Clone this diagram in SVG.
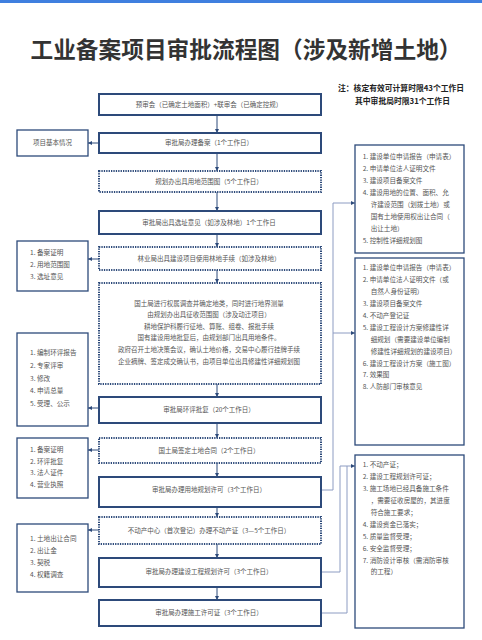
<svg xmlns="http://www.w3.org/2000/svg" width="482" height="640" viewBox="0 0 482 640">
<defs>
<style>
.box{fill:#fff;stroke:#2d4a7a;stroke-width:2}
.dot{fill:#fff;stroke:#2d4a7a;stroke-width:2;stroke-dasharray:1.3 1.1}
.side{fill:#fff;stroke:#2d4a7a;stroke-width:1.3}
.t{font-family:"Noto Sans CJK SC","Noto Sans",sans-serif;font-size:6.5px;fill:#555;text-anchor:middle}
.l{font-family:"Noto Sans CJK SC","Noto Sans",sans-serif;font-size:6.6px;fill:#555}
.c{stroke:#2d4a7a;stroke-width:1;fill:none}
.r{stroke:#8d9cc2;stroke-width:1;fill:none}
.title{font-family:"Noto Sans CJK SC","Noto Sans",sans-serif;font-size:22.7px;font-weight:bold;fill:#333;text-anchor:middle}
.note{font-family:"Noto Sans CJK SC","Noto Sans",sans-serif;font-size:7.8px;font-weight:bold;fill:#222}
</style>
<marker id="a" viewBox="0 0 6 6" refX="6" refY="3" markerWidth="4" markerHeight="4" orient="auto" markerUnits="userSpaceOnUse"><path d="M0 0 L6 3 L0 6 Z" fill="#2d4a7a"/></marker>
<marker id="ar" viewBox="0 0 6 6" refX="6" refY="3" markerWidth="4" markerHeight="4" orient="auto" markerUnits="userSpaceOnUse"><path d="M0 0 L6 3 L0 6 Z" fill="#2d4a7a"/></marker>
</defs>
<rect x="0" y="0" width="482" height="3" fill="#3f7fdf"/>
<text class="title" x="246" y="58">工业备案项目审批流程图（涉及新增土地）</text>
<text class="note" x="338" y="91">注：核定有效可计算时限43个工作日</text>
<text class="note" x="355" y="104">其中审批局时限31个工作日</text>

<g id="connectors">
<path class="c" d="M217 115 V133" marker-end="url(#a)"/>
<path class="c" d="M217 153 V171" marker-end="url(#a)"/>
<path class="c" d="M217 192 V211" marker-end="url(#a)"/>
<path class="c" d="M217 234 V247" marker-end="url(#a)"/>
<path class="c" d="M217 270 V283" marker-end="url(#a)"/>
<path class="c" d="M217 384 V397" marker-end="url(#a)"/>
<path class="c" d="M217 423 V438" marker-end="url(#a)"/>
<path class="c" d="M217 463 V477" marker-end="url(#a)"/>
<path class="c" d="M217 507 V517" marker-end="url(#a)"/>
<path class="c" d="M217 544 V558" marker-end="url(#a)"/>
<path class="c" d="M217 587 V600" marker-end="url(#a)"/>
<path class="c" d="M99 143 H88" marker-end="url(#a)"/>
<path class="c" d="M99 259 H88" marker-end="url(#a)"/>
<path class="c" d="M99 408 H88" marker-end="url(#a)"/>
<path class="c" d="M99 450 H88" marker-end="url(#a)"/>
<path class="c" d="M99 530 H88" marker-end="url(#a)"/>
<path class="r" d="M321 490 H333 V203 H355" marker-end="url(#ar)"/>
<path class="r" d="M333 333 H355" marker-end="url(#ar)"/>
<path class="r" d="M321 572 H340 V466 H355" marker-end="url(#ar)"/>
<path class="r" d="M321 613 H347 V466"/>
</g>

<g id="n1"><rect class="box" x="99" y="94" width="222" height="21"/><text class="t" x="209" y="107.3">预审会（已确定土地面积）+联审会（已确定控规）</text></g>
<g id="n2"><rect class="box" x="99" y="133" width="222" height="20"/><text class="t" x="209" y="145.3">审批局办理备案（1个工作日）</text></g>
<g id="n3"><rect class="dot" x="99" y="171" width="222" height="21"/><text class="t" x="209" y="183.8">规划办出具用地范围图（5个工作日）</text></g>
<g id="n4"><rect class="box" x="99" y="211" width="222" height="23"/><text class="t" x="209" y="224.8">审批局出具选址意见（如涉及林地）1个工作日</text></g>
<g id="n5"><rect class="dot" x="99" y="247" width="222" height="23"/><text class="t" x="209" y="260.8">林业局出具建设项目使用林地手续（如涉及林地）</text></g>
<g id="n6"><rect class="dot" x="99" y="283" width="222" height="101"/>
<text class="t" x="209" y="305.6">国土局进行权属调查并确定地类，同时进行地界测量</text>
<text class="t" x="209" y="317.2">由规划办出具征收范围图（涉及动迁项目）</text>
<text class="t" x="209" y="328.8">耕地保护科履行征地、算账、组卷、报批手续</text>
<text class="t" x="209" y="340.4">国有建设用地批复后，由规划部门出具用地条件。</text>
<text class="t" x="209" y="352">政府召开土地决策会议，确认土地价格，交易中心履行挂牌手续</text>
<text class="t" x="209" y="363.6">企业摘牌、签定成交确认书，由项目单位出具修建性详细规划图</text>
</g>
<g id="n7"><rect class="box" x="99" y="397" width="222" height="26"/><text class="t" x="209" y="412.3">审批局环评批复（20个工作日）</text></g>
<g id="n8"><rect class="dot" x="99" y="438" width="222" height="25"/><text class="t" x="209" y="452.8">国土局签定土地合同（2个工作日）</text></g>
<g id="n9"><rect class="box" x="99" y="477" width="222" height="30"/><text class="t" x="209" y="491.8">审批局办理用地规划许可（3个工作日）</text></g>
<g id="n10"><rect class="dot" x="99" y="517" width="222" height="27"/><text class="t" x="209" y="532.8">不动产中心（首次登记）办理不动产证（3—5个工作日）</text></g>
<g id="n11"><rect class="box" x="99" y="558" width="222" height="29"/><text class="t" x="209" y="573.8">审批局办理建设工程规划许可（3个工作日）</text></g>
<g id="n12"><rect class="box" x="99" y="600" width="222" height="26"/><text class="t" x="209" y="615.3">审批局办理施工许可证（3个工作日）</text></g>

<g id="s1"><rect class="side" x="17" y="130" width="71" height="26"/><text class="t" x="52.5" y="145.3">项目基本情况</text></g>
<g id="s2"><rect class="side" x="17" y="241" width="71" height="50"/>
<text class="l" x="30" y="255.3">1. 备案证明</text><text class="l" x="30" y="267.3">2. 用地范围图</text><text class="l" x="30" y="279.3">3. 选址意见</text></g>
<g id="s3"><rect class="side" x="17" y="333" width="71" height="93"/>
<text class="l" x="30" y="355.3">1. 编制环评报告</text><text class="l" x="30" y="368">2. 专家评审</text><text class="l" x="30" y="380.7">3. 修改</text><text class="l" x="30" y="393.4">4. 申请总量</text><text class="l" x="30" y="406.1">5. 受理、公示</text></g>
<g id="s4"><rect class="side" x="17" y="438" width="71" height="60"/>
<text class="l" x="30" y="452.3">1. 备案证明</text><text class="l" x="30" y="463.8">2. 环评批复</text><text class="l" x="30" y="475.3">3. 法人证件</text><text class="l" x="30" y="486.8">4. 营业执照</text></g>
<g id="s5"><rect class="side" x="17" y="524" width="71" height="68"/>
<text class="l" x="30" y="541.3">1. 土地出让合同</text><text class="l" x="30" y="553.3">2. 出让金</text><text class="l" x="30" y="565.3">3. 契税</text><text class="l" x="30" y="577.3">4. 权籍调查</text></g>

<g id="r1"><rect class="side" x="355" y="145" width="109" height="108"/>
<text class="l" x="362.7" y="159.3">1. 建设单位申请报告（申请表）</text>
<text class="l" x="362.7" y="171.3">2. 申请单位法人证明文件</text>
<text class="l" x="362.7" y="183.3">3. 建设项目备案文件</text>
<text class="l" x="362.7" y="195.3">4. 建设用地的位置、面积、允</text>
<text class="l" x="370.7" y="207.3">许建设范围（划拨土地）或</text>
<text class="l" x="370.7" y="219.3">国有土地使用权出让合同（</text>
<text class="l" x="370.7" y="231.3">出让土地）</text>
<text class="l" x="362.7" y="243.3">5. 控制性详细规划图</text></g>
<g id="r2"><rect class="side" x="355" y="258" width="109" height="187"/>
<text class="l" x="362.7" y="270.3">1. 建设单位申请报告（申请表）</text>
<text class="l" x="362.7" y="282.2">2. 申请单位法人证明文件（或</text>
<text class="l" x="370.7" y="294.1">自然人身份证明）</text>
<text class="l" x="362.7" y="306">3. 建设项目备案文件</text>
<text class="l" x="362.7" y="317.9">4. 不动产登记证</text>
<text class="l" x="362.7" y="329.8">5. 建设工程设计方案修建性详</text>
<text class="l" x="370.7" y="341.7">细规划（需要建设单位编制</text>
<text class="l" x="370.7" y="353.6">修建性详细规划的建设项目）</text>
<text class="l" x="362.7" y="365.5">6. 建设工程设计方案（施工图）</text>
<text class="l" x="362.7" y="377.4">7. 效果图</text>
<text class="l" x="362.7" y="389.3">8. 人防部门审核意见</text></g>
<g id="r3"><rect class="side" x="355" y="455" width="109" height="173"/>
<text class="l" x="362.7" y="467.3">1. 不动产证；</text>
<text class="l" x="362.7" y="479.2">2. 建设工程规划许可证；</text>
<text class="l" x="362.7" y="491.1">3. 施工场地已经具备施工条件</text>
<text class="l" x="370.7" y="503">，需要征收房屋的，其进度</text>
<text class="l" x="370.7" y="514.9">符合施工要求；</text>
<text class="l" x="362.7" y="526.8">4. 建设资金已落实；</text>
<text class="l" x="362.7" y="538.7">5. 质量监督受理；</text>
<text class="l" x="362.7" y="550.6">6. 安全监督受理；</text>
<text class="l" x="362.7" y="562.5">7. 消防设计审核（需消防审核</text>
<text class="l" x="370.7" y="574.4">的工程）</text></g>
</svg>
